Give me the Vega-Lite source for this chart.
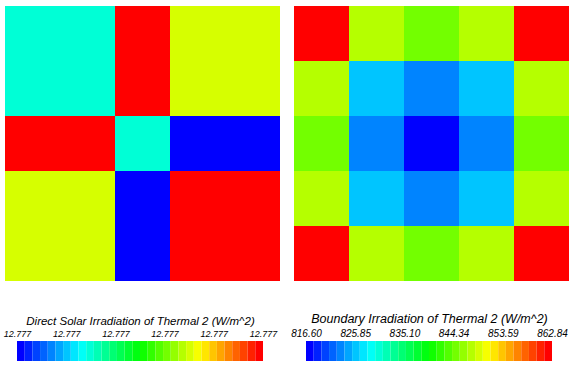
{
  "$schema": "https://vega.github.io/schema/vega-lite/v6.json",
  "background": "white",
  "padding": {"left": 3, "top": 6, "right": 0, "bottom": 0},
  "spacing": 10,
  "config": {
    "view": {"stroke": null},
    "axis": {
      "ticks": false, "domain": false, "grid": false,
      "labelFont": "Liberation Sans", "labelFontStyle": "italic", "labelFontSize": 9, "labelColor": "black",
      "labelPadding": 3, "labelOverlap": false, "labelFlush": false, "labelBound": false,
      "titleFont": "Liberation Sans", "titleFontStyle": "italic", "titleFontWeight": "normal", "titleFontSize": 11.5,
      "titleColor": "black", "titlePadding": 3
    }
  },
  "resolve": {"scale": {"color": "independent", "x": "independent", "y": "independent"}},
  "hconcat": [
    {
      "spacing": 60,
      "bounds": "flush",
      "resolve": {"scale": {"color": "independent", "x": "independent", "y": "independent"}},
      "vconcat": [
        {
          "width": 275, "height": 275,
          "data": {"values": [
            {"x0": 0, "x1": 2, "y0": 0, "y1": 2, "value": 12.7769475},
            {"x0": 2, "x1": 3, "y0": 0, "y1": 2, "value": 12.77706},
            {"x0": 3, "x1": 5, "y0": 0, "y1": 2, "value": 12.7770125},
            {"x0": 0, "x1": 2, "y0": 2, "y1": 3, "value": 12.77706},
            {"x0": 2, "x1": 3, "y0": 2, "y1": 3, "value": 12.7769475},
            {"x0": 3, "x1": 5, "y0": 2, "y1": 3, "value": 12.7769},
            {"x0": 0, "x1": 2, "y0": 3, "y1": 5, "value": 12.7770125},
            {"x0": 2, "x1": 3, "y0": 3, "y1": 5, "value": 12.7769},
            {"x0": 3, "x1": 5, "y0": 3, "y1": 5, "value": 12.77706}
          ]},
          "mark": {"type": "rect"},
          "encoding": {
            "x": {"field": "x0", "type": "quantitative", "scale": {"domain": [0, 5], "nice": false, "zero": false}, "axis": null},
            "x2": {"field": "x1"},
            "y": {"field": "y0", "type": "quantitative", "scale": {"domain": [0, 5], "nice": false, "zero": false, "reverse": true}, "axis": null},
            "y2": {"field": "y1"},
            "color": {"field": "value", "type": "quantitative", "legend": null,
              "scale": {"type": "quantize", "domain": [12.7769, 12.77706],
                "range": ["#0000ff","#0021ff","#0042ff","#0063ff","#0084ff","#00a5ff","#00c5ff","#00e6ff","#00fff7","#00ffd6","#00ffb5","#00ff94","#00ff73","#00ff52","#00ff31","#00ff10","#10ff00","#31ff00","#52ff00","#73ff00","#94ff00","#b5ff00","#d6ff00","#f7ff00","#ffe600","#ffc500","#ffa500","#ff8400","#ff6300","#ff4200","#ff2100","#ff0000"]}}
          }
        },
        {
          "width": 275, "height": 20,
          "data": {"values": [
            {"k": 0, "lo": 12.776900, "hi": 12.776905},
            {"k": 1, "lo": 12.776905, "hi": 12.776910},
            {"k": 2, "lo": 12.776910, "hi": 12.776915},
            {"k": 3, "lo": 12.776915, "hi": 12.776920},
            {"k": 4, "lo": 12.776920, "hi": 12.776925},
            {"k": 5, "lo": 12.776925, "hi": 12.776930},
            {"k": 6, "lo": 12.776930, "hi": 12.776935},
            {"k": 7, "lo": 12.776935, "hi": 12.776940},
            {"k": 8, "lo": 12.776940, "hi": 12.776945},
            {"k": 9, "lo": 12.776945, "hi": 12.776950},
            {"k": 10, "lo": 12.776950, "hi": 12.776955},
            {"k": 11, "lo": 12.776955, "hi": 12.776960},
            {"k": 12, "lo": 12.776960, "hi": 12.776965},
            {"k": 13, "lo": 12.776965, "hi": 12.776970},
            {"k": 14, "lo": 12.776970, "hi": 12.776975},
            {"k": 15, "lo": 12.776975, "hi": 12.776980},
            {"k": 16, "lo": 12.776980, "hi": 12.776985},
            {"k": 17, "lo": 12.776985, "hi": 12.776990},
            {"k": 18, "lo": 12.776990, "hi": 12.776995},
            {"k": 19, "lo": 12.776995, "hi": 12.777000},
            {"k": 20, "lo": 12.777000, "hi": 12.777005},
            {"k": 21, "lo": 12.777005, "hi": 12.777010},
            {"k": 22, "lo": 12.777010, "hi": 12.777015},
            {"k": 23, "lo": 12.777015, "hi": 12.777020},
            {"k": 24, "lo": 12.777020, "hi": 12.777025},
            {"k": 25, "lo": 12.777025, "hi": 12.777030},
            {"k": 26, "lo": 12.777030, "hi": 12.777035},
            {"k": 27, "lo": 12.777035, "hi": 12.777040},
            {"k": 28, "lo": 12.777040, "hi": 12.777045},
            {"k": 29, "lo": 12.777045, "hi": 12.777050},
            {"k": 30, "lo": 12.777050, "hi": 12.777055},
            {"k": 31, "lo": 12.777055, "hi": 12.777060}
          ]},
          "mark": {"type": "rect"},
          "encoding": {
            "x": {"field": "lo", "type": "quantitative",
              "scale": {"domain": [12.7769, 12.77706], "range": [12, 258], "nice": false, "zero": false},
              "axis": {"orient": "top", "values": [12.7769, 12.776932, 12.776964, 12.776996, 12.777028, 12.77706], "format": ".3f",
                "title": "Direct Solar Irradiation of Thermal 2 (W/m^2)"}},
            "x2": {"field": "hi"},
            "color": {"field": "k", "type": "ordinal", "legend": null,
              "scale": {"domain": [0,1,2,3,4,5,6,7,8,9,10,11,12,13,14,15,16,17,18,19,20,21,22,23,24,25,26,27,28,29,30,31],
                "range": ["#0000ff","#0021ff","#0042ff","#0063ff","#0084ff","#00a5ff","#00c5ff","#00e6ff","#00fff7","#00ffd6","#00ffb5","#00ff94","#00ff73","#00ff52","#00ff31","#00ff10","#10ff00","#31ff00","#52ff00","#73ff00","#94ff00","#b5ff00","#d6ff00","#f7ff00","#ffe600","#ffc500","#ffa500","#ff8400","#ff6300","#ff4200","#ff2100","#ff0000"]}}
          }
        }
      ]
    },
    {
      "spacing": 60,
      "bounds": "flush",
      "resolve": {"scale": {"color": "independent", "x": "independent", "y": "independent"}},
      "vconcat": [
        {
          "width": 275, "height": 275,
          "data": {"values": [
            {"x0": 0, "x1": 1, "y0": 0, "y1": 1, "value": 862.84},
            {"x0": 1, "x1": 2, "y0": 0, "y1": 1, "value": 847.67},
            {"x0": 2, "x1": 3, "y0": 0, "y1": 1, "value": 844.78},
            {"x0": 3, "x1": 4, "y0": 0, "y1": 1, "value": 847.67},
            {"x0": 4, "x1": 5, "y0": 0, "y1": 1, "value": 862.84},
            {"x0": 0, "x1": 1, "y0": 1, "y1": 2, "value": 847.67},
            {"x0": 1, "x1": 2, "y0": 1, "y1": 2, "value": 825.99},
            {"x0": 2, "x1": 3, "y0": 1, "y1": 2, "value": 823.10},
            {"x0": 3, "x1": 4, "y0": 1, "y1": 2, "value": 825.99},
            {"x0": 4, "x1": 5, "y0": 1, "y1": 2, "value": 847.67},
            {"x0": 0, "x1": 1, "y0": 2, "y1": 3, "value": 844.78},
            {"x0": 1, "x1": 2, "y0": 2, "y1": 3, "value": 823.10},
            {"x0": 2, "x1": 3, "y0": 2, "y1": 3, "value": 816.60},
            {"x0": 3, "x1": 4, "y0": 2, "y1": 3, "value": 823.10},
            {"x0": 4, "x1": 5, "y0": 2, "y1": 3, "value": 844.78},
            {"x0": 0, "x1": 1, "y0": 3, "y1": 4, "value": 847.67},
            {"x0": 1, "x1": 2, "y0": 3, "y1": 4, "value": 825.99},
            {"x0": 2, "x1": 3, "y0": 3, "y1": 4, "value": 823.10},
            {"x0": 3, "x1": 4, "y0": 3, "y1": 4, "value": 825.99},
            {"x0": 4, "x1": 5, "y0": 3, "y1": 4, "value": 847.67},
            {"x0": 0, "x1": 1, "y0": 4, "y1": 5, "value": 862.84},
            {"x0": 1, "x1": 2, "y0": 4, "y1": 5, "value": 847.67},
            {"x0": 2, "x1": 3, "y0": 4, "y1": 5, "value": 844.78},
            {"x0": 3, "x1": 4, "y0": 4, "y1": 5, "value": 847.67},
            {"x0": 4, "x1": 5, "y0": 4, "y1": 5, "value": 862.84}
          ]},
          "mark": {"type": "rect"},
          "encoding": {
            "x": {"field": "x0", "type": "quantitative", "scale": {"domain": [0, 5], "nice": false, "zero": false}, "axis": null},
            "x2": {"field": "x1"},
            "y": {"field": "y0", "type": "quantitative", "scale": {"domain": [0, 5], "nice": false, "zero": false, "reverse": true}, "axis": null},
            "y2": {"field": "y1"},
            "color": {"field": "value", "type": "quantitative", "legend": null,
              "scale": {"type": "quantize", "domain": [816.60, 862.84],
                "range": ["#0000ff","#0021ff","#0042ff","#0063ff","#0084ff","#00a5ff","#00c5ff","#00e6ff","#00fff7","#00ffd6","#00ffb5","#00ff94","#00ff73","#00ff52","#00ff31","#00ff10","#10ff00","#31ff00","#52ff00","#73ff00","#94ff00","#b5ff00","#d6ff00","#f7ff00","#ffe600","#ffc500","#ffa500","#ff8400","#ff6300","#ff4200","#ff2100","#ff0000"]}}
          }
        },
        {
          "width": 275, "height": 20,
          "data": {"values": [
            {"k": 0, "lo": 816.600, "hi": 818.045},
            {"k": 1, "lo": 818.045, "hi": 819.490},
            {"k": 2, "lo": 819.490, "hi": 820.935},
            {"k": 3, "lo": 820.935, "hi": 822.380},
            {"k": 4, "lo": 822.380, "hi": 823.825},
            {"k": 5, "lo": 823.825, "hi": 825.270},
            {"k": 6, "lo": 825.270, "hi": 826.715},
            {"k": 7, "lo": 826.715, "hi": 828.160},
            {"k": 8, "lo": 828.160, "hi": 829.605},
            {"k": 9, "lo": 829.605, "hi": 831.050},
            {"k": 10, "lo": 831.050, "hi": 832.495},
            {"k": 11, "lo": 832.495, "hi": 833.940},
            {"k": 12, "lo": 833.940, "hi": 835.385},
            {"k": 13, "lo": 835.385, "hi": 836.830},
            {"k": 14, "lo": 836.830, "hi": 838.275},
            {"k": 15, "lo": 838.275, "hi": 839.720},
            {"k": 16, "lo": 839.720, "hi": 841.165},
            {"k": 17, "lo": 841.165, "hi": 842.610},
            {"k": 18, "lo": 842.610, "hi": 844.055},
            {"k": 19, "lo": 844.055, "hi": 845.500},
            {"k": 20, "lo": 845.500, "hi": 846.945},
            {"k": 21, "lo": 846.945, "hi": 848.390},
            {"k": 22, "lo": 848.390, "hi": 849.835},
            {"k": 23, "lo": 849.835, "hi": 851.280},
            {"k": 24, "lo": 851.280, "hi": 852.725},
            {"k": 25, "lo": 852.725, "hi": 854.170},
            {"k": 26, "lo": 854.170, "hi": 855.615},
            {"k": 27, "lo": 855.615, "hi": 857.060},
            {"k": 28, "lo": 857.060, "hi": 858.505},
            {"k": 29, "lo": 858.505, "hi": 859.950},
            {"k": 30, "lo": 859.950, "hi": 861.395},
            {"k": 31, "lo": 861.395, "hi": 862.840}
          ]},
          "mark": {"type": "rect"},
          "encoding": {
            "x": {"field": "lo", "type": "quantitative",
              "scale": {"domain": [816.60, 862.84], "range": [12, 258], "nice": false, "zero": false},
              "axis": {"orient": "top", "values": [816.60, 825.848, 835.096, 844.344, 853.592, 862.84], "format": ".2f",
                "title": "Boundary Irradiation of Thermal 2 (W/m^2)", "titleFontSize": 12.5, "labelFontSize": 10}},
            "x2": {"field": "hi"},
            "color": {"field": "k", "type": "ordinal", "legend": null,
              "scale": {"domain": [0,1,2,3,4,5,6,7,8,9,10,11,12,13,14,15,16,17,18,19,20,21,22,23,24,25,26,27,28,29,30,31],
                "range": ["#0000ff","#0021ff","#0042ff","#0063ff","#0084ff","#00a5ff","#00c5ff","#00e6ff","#00fff7","#00ffd6","#00ffb5","#00ff94","#00ff73","#00ff52","#00ff31","#00ff10","#10ff00","#31ff00","#52ff00","#73ff00","#94ff00","#b5ff00","#d6ff00","#f7ff00","#ffe600","#ffc500","#ffa500","#ff8400","#ff6300","#ff4200","#ff2100","#ff0000"]}}
          }
        }
      ]
    }
  ]
}
